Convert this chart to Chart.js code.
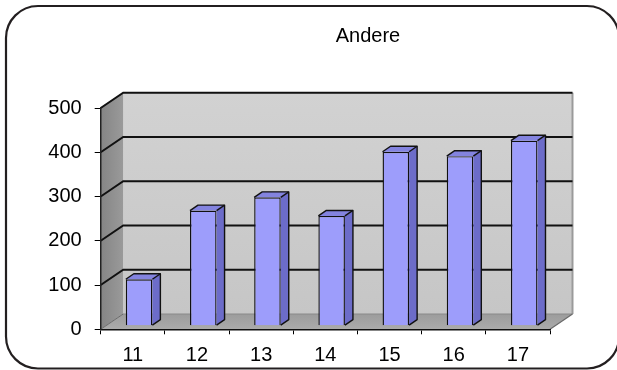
<!DOCTYPE html>
<html>
<head>
<meta charset="utf-8">
<script src="https://cdn.jsdelivr.net/npm/chart.js@4.4.1/dist/chart.umd.min.js"></script>
<style>
  html, body { margin: 0; padding: 0; background: #fff; overflow: hidden; }
  #wrap { position: relative; width: 617px; height: 370px; }
</style>
</head>
<body>
<div id="wrap"><canvas id="c" width="617" height="370"></canvas></div>
<script>
// Data
const chartTitle = 'Andere';
const categories = ['11', '12', '13', '14', '15', '16', '17'];
const values = [105, 260, 290, 248, 393, 383, 418];
const yTicks = [0, 100, 200, 300, 400, 500];

// 3D look: offset from the front plane to the back wall, bar placement and depth
const WALL_DX = 22.5, WALL_DY = -15.3;
const BAR_SHIFT_X = 6.3, BAR_SHIFT_Y = -3.6;
const BAR_DX = 8, BAR_DY = -5.5;
const FONT = '"Liberation Sans", Arial, sans-serif';

function line(ctx, pts, color, width) {
  ctx.beginPath();
  ctx.moveTo(pts[0][0], pts[0][1]);
  for (let i = 1; i < pts.length; i++) ctx.lineTo(pts[i][0], pts[i][1]);
  ctx.strokeStyle = color;
  ctx.lineWidth = width;
  ctx.stroke();
}
function poly(ctx, pts, fill) {
  ctx.beginPath();
  ctx.moveTo(pts[0][0], pts[0][1]);
  for (let i = 1; i < pts.length; i++) ctx.lineTo(pts[i][0], pts[i][1]);
  ctx.closePath();
  ctx.fillStyle = fill;
  ctx.fill();
}

const box3d = {
  id: 'box3d',
  beforeDraw(chart) {
    const ctx = chart.ctx;
    const { left, right } = chart.chartArea;
    const ys = chart.scales.y;
    const yb = ys.getPixelForValue(yTicks[0]);
    const yt = ys.getPixelForValue(yTicks[yTicks.length - 1]);
    const bl = left + WALL_DX, br = right + WALL_DX;
    const bt = yt + WALL_DY, bb = yb + WALL_DY;
    ctx.save();
    // back wall
    const gw = ctx.createLinearGradient(0, bt, 0, bb);
    gw.addColorStop(0, '#d2d2d2');
    gw.addColorStop(1, '#c6c6c6');
    poly(ctx, [[bl, bt], [br, bt], [br, bb], [bl, bb]], gw);
    // side wall
    const gs = ctx.createLinearGradient(left, 0, bl, 0);
    gs.addColorStop(0, '#858585');
    gs.addColorStop(1, '#9a9a9a');
    poly(ctx, [[left, yt], [bl, bt], [bl, bb], [left, yb]], gs);
    // floor
    const gf = ctx.createLinearGradient(0, bb, 0, yb);
    gf.addColorStop(0, '#9c9c9c');
    gf.addColorStop(1, '#ababab');
    poly(ctx, [[left, yb], [right, yb], [br, bb], [bl, bb]], gf);
    // wall edges
    line(ctx, [[br, bt], [br, bb]], '#9a9a9a', 2);
    line(ctx, [[bl, bb], [br, bb]], '#8a8a8a', 1);
    line(ctx, [[left, yb], [bl, bb]], '#6a6a6a', 1);
    line(ctx, [[right, yb], [br, bb]], '#6a6a6a', 1.2);
    // gridlines across side wall and back wall
    yTicks.forEach(v => {
      if (v === yTicks[0]) return;
      const y = ys.getPixelForValue(v);
      line(ctx, [[left, y], [bl, y + WALL_DY], [br, y + WALL_DY]], '#111', 2);
    });
    ctx.restore();
  },
  beforeDatasetsDraw(chart) {
    chart.ctx.save();
    chart.ctx.translate(BAR_SHIFT_X, BAR_SHIFT_Y);
  },
  afterDatasetsDraw(chart) {
    const ctx = chart.ctx;
    const meta = chart.getDatasetMeta(0);
    meta.data.forEach(bar => {
      const { x, y, base, width } = bar.getProps(['x', 'y', 'base', 'width'], true);
      const l = x - width / 2, r = x + width / 2;
      ctx.lineJoin = 'round';
      // side face
      const side = [[r, y], [r + BAR_DX, y + BAR_DY], [r + BAR_DX, base + BAR_DY], [r, base]];
      poly(ctx, side, '#6c6cc9');
      // top face
      const topF = [[l, y], [l + BAR_DX, y + BAR_DY], [r + BAR_DX, y + BAR_DY], [r, y]];
      poly(ctx, topF, '#8383df');
      line(ctx, [[l, y], [l + BAR_DX, y + BAR_DY], [r + BAR_DX, y + BAR_DY], [r + BAR_DX, base + BAR_DY], [r, base]], '#111', 1.4);
      line(ctx, [[r, y], [r + BAR_DX, y + BAR_DY]], '#111', 1.4);
    });
    ctx.restore();
  },
  afterDraw(chart) {
    const ctx = chart.ctx;
    ctx.save();
    // title
    ctx.font = '20px ' + FONT;
    ctx.fillStyle = '#000';
    ctx.textAlign = 'center';
    ctx.textBaseline = 'alphabetic';
    ctx.fillText(chartTitle, 368, 42);
    // rounded frame
    ctx.beginPath();
    ctx.roundRect(6, 6, 613, 362.5, 32);
    ctx.strokeStyle = '#231f20';
    ctx.lineWidth = 2.2;
    ctx.stroke();
    ctx.restore();
  }
};

new Chart(document.getElementById('c'), {
  type: 'bar',
  data: {
    labels: categories,
    datasets: [{
      label: chartTitle,
      data: values,
      backgroundColor: '#9d9dfb',
      borderColor: '#111',
      borderWidth: 1.4,
      barPercentage: 0.414,
      categoryPercentage: 1,
      clip: false
    }]
  },
  options: {
    responsive: false,
    animation: false,
    events: [],
    layout: { padding: { top: 108, right: 67, bottom: 0, left: 0 } },
    plugins: {
      legend: { display: false },
      title: { display: false },
      tooltip: { enabled: false }
    },
    scales: {
      x: {
        offset: true,
        grid: { offset: true, drawOnChartArea: false, drawTicks: true, tickLength: 5, color: '#000', lineWidth: 1 },
        border: { display: true, color: '#111', width: 1.5 },
        ticks: { color: '#000', font: { family: FONT, size: 20 }, padding: 9, maxRotation: 0, autoSkip: false },
        afterFit(s) { s.height = 40.7; }
      },
      y: {
        min: yTicks[0],
        max: yTicks[yTicks.length - 1],
        afterBuildTicks(s) { s.ticks = yTicks.map(v => ({ value: v })); },
        grid: { drawOnChartArea: false, drawTicks: true, tickLength: 6, color: '#000', lineWidth: 1 },
        border: { display: true, color: '#222', width: 1.5 },
        ticks: { color: '#000', font: { family: FONT, size: 20 }, padding: 13 },
        afterFit(s) { s.width = 100.7; }
      }
    }
  },
  plugins: [box3d]
});
</script>
</body>
</html>
